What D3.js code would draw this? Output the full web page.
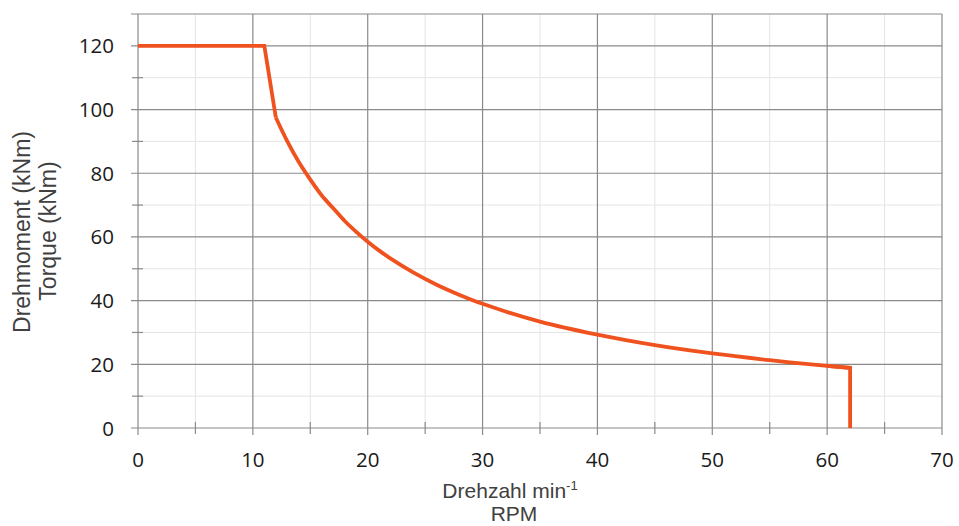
<!DOCTYPE html>
<html>
<head>
<meta charset="utf-8">
<script src="https://cdn.jsdelivr.net/npm/d3@7"></script>
<style>
  body { margin: 0; background: #fff; }
  text { font-family: 'Open Sans', 'Liberation Sans', sans-serif; }
  .title { font-family: 'Liberation Sans', Arial, sans-serif; }
</style>
</head>
<body>
<svg id="chart" width="959" height="526"></svg>
<script>
// torque curve
const rpm = [0, 11, 12, 13, 14, 15, 16, 17, 18, 19, 20, 21, 22, 24, 26, 28, 30, 35, 40, 45, 50, 55, 60, 62, 62]
const torque = [120, 120, 97.5, 90, 83.5, 78, 73, 69, 65, 61.6, 58.5, 55.7, 53.2, 48.8, 45, 41.8, 39, 33.4, 29.3, 26, 23.4, 21.3, 19.5, 18.9, 0]

const xTicks = [0, 10, 20, 30, 40, 50, 60, 70]
const xMinor = [5, 15, 25, 35, 45, 55, 65]
const yTicks = [0, 20, 40, 60, 80, 100, 120]
const yMinor = [10, 30, 50, 70, 90, 110]

function draw() {
  const svg = d3.select('#chart')
  const m = { left: 138, right: 942, top: 14, bottom: 428 }

  const x = d3.scaleLinear().domain([0, 70]).range([m.left, m.right])
  const y = d3.scaleLinear().domain([0, 130]).range([m.bottom, m.top])

  // minor grid
  svg.selectAll('.vminor').data(xMinor).join('line')
    .attr('x1', (d) => x(d)).attr('x2', (d) => x(d))
    .attr('y1', m.top).attr('y2', m.bottom)
    .attr('stroke', '#e4e4e4').attr('stroke-width', 1)
  svg.selectAll('.hminor').data(yMinor).join('line')
    .attr('x1', m.left).attr('x2', m.right)
    .attr('y1', (d) => y(d)).attr('y2', (d) => y(d))
    .attr('stroke', '#e4e4e4').attr('stroke-width', 1)

  // major grid
  svg.selectAll('.vmajor').data(xTicks).join('line')
    .attr('x1', (d) => x(d)).attr('x2', (d) => x(d))
    .attr('y1', m.top).attr('y2', m.bottom + 7)
    .attr('stroke', '#8a8a8a').attr('stroke-width', 1.2)
  svg.selectAll('.hmajor').data(yTicks).join('line')
    .attr('x1', m.left - 7).attr('x2', m.right)
    .attr('y1', (d) => y(d)).attr('y2', (d) => y(d))
    .attr('stroke', '#8a8a8a').attr('stroke-width', 1.2)

  // top border
  svg.append('line')
    .attr('x1', m.left - 7).attr('x2', m.right)
    .attr('y1', m.top).attr('y2', m.top)
    .attr('stroke', '#8a8a8a').attr('stroke-width', 1.2)

  // minor ticks crossing the axes
  svg.selectAll('.xmt').data(xMinor).join('line')
    .attr('x1', (d) => x(d)).attr('x2', (d) => x(d))
    .attr('y1', m.bottom - 6).attr('y2', m.bottom + 6)
    .attr('stroke', '#8a8a8a').attr('stroke-width', 1.2)
  svg.selectAll('.ymt').data(yMinor).join('line')
    .attr('x1', m.left - 6).attr('x2', m.left + 5)
    .attr('y1', (d) => y(d)).attr('y2', (d) => y(d))
    .attr('stroke', '#8a8a8a').attr('stroke-width', 1.2)

  // tick labels
  svg.selectAll('.xl').data(xTicks).join('text')
    .attr('x', (d) => x(d)).attr('y', 467)
    .attr('text-anchor', 'middle')
    .attr('font-size', 20.5).attr('fill', '#1a1a1a')
    .text((d) => d)
  svg.selectAll('.yl').data(yTicks).join('text')
    .attr('x', 114).attr('y', (d) => y(d) + 7.5)
    .attr('text-anchor', 'end')
    .attr('font-size', 20.5).attr('fill', '#1a1a1a')
    .text((d) => d)

  // axis titles
  const xt = svg.append('text').attr('class', 'title')
    .attr('x', 510).attr('y', 498)
    .attr('text-anchor', 'middle')
    .attr('font-size', 21).attr('fill', '#404040')
  xt.append('tspan').text('Drehzahl min')
  xt.append('tspan').attr('font-size', 13).attr('dy', -8).text('-1')
  svg.append('text').attr('class', 'title')
    .attr('x', 514).attr('y', 521)
    .attr('text-anchor', 'middle')
    .attr('font-size', 21).attr('fill', '#404040')
    .text('RPM')

  svg.append('text').attr('class', 'title')
    .attr('transform', 'translate(30, 232) rotate(-90)')
    .attr('text-anchor', 'middle')
    .attr('font-size', 23).attr('fill', '#404040')
    .text('Drehmoment (kNm)')
  svg.append('text').attr('class', 'title')
    .attr('transform', 'translate(56, 231) rotate(-90)')
    .attr('text-anchor', 'middle')
    .attr('font-size', 23).attr('fill', '#404040')
    .text('Torque (kNm)')

  // curve
  const data = rpm.map((r, i) => [r, torque[i]])
  const straight = d3.line().x((d) => x(d[0])).y((d) => y(d[1]))
  const smooth = d3.line()
    .x((d) => x(d[0]))
    .y((d) => y(d[1]))
    .curve(d3.curveCatmullRom)
  // smooth curve can't handle the corners; draw it piecewise
  svg.append('path')
    .attr('d', straight(data.slice(0, 3)))
    .attr('fill', 'none').attr('stroke', '#f0521f').attr('stroke-width', 3.8)
  svg.append('path')
    .attr('d', smooth(data.slice(2, data.length - 1)))
    .attr('fill', 'none').attr('stroke', '#f0521f').attr('stroke-width', 3.8)
  svg.append('path')
    .attr('d', straight(data.slice(data.length - 3)))
    .attr('fill', 'none').attr('stroke', '#f0521f').attr('stroke-width', 3.8)
}

draw()
</script>
</body>
</html>
